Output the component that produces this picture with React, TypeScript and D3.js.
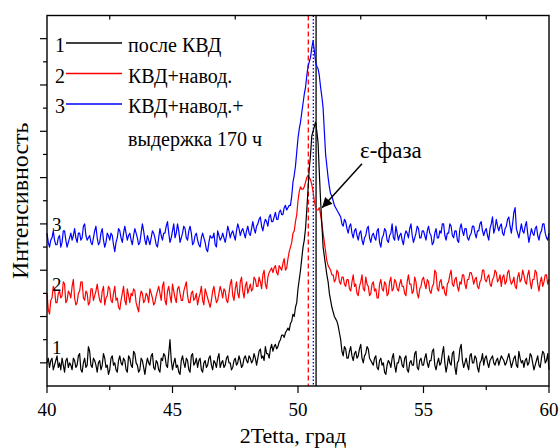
import { line, scaleLinear } from 'd3';
import React from 'react';

// 2Tetta grid: 40..60 step 0.05 (one row = one degree)
const tettaStart = 40;
const tettaStep = 0.05;

// 1 - после КВД
const seriesAfterHPT = [
	10, 12, 8, 11, 12, 7, 9, 11, 13, 8, 10, 7, 12, 9, 6, 11, 12, 8, 10, 9,
	7, 12, 11, 8, 9, 13, 14, 7, 6, 10, 12, 8, 9, 17, 15, 9, 8, 12, 11, 9,
	6, 10, 11, 7, 9, 14, 12, 8, 9, 5, 7, 12, 13, 9, 10, 7, 6, 11, 13, 10,
	9, 12, 11, 7, 6, 13, 12, 9, 8, 15, 14, 10, 9, 6, 7, 12, 11, 8, 5, 9,
	12, 10, 9, 13, 14, 8, 7, 11, 10, 7, 6, 12, 11, 14, 13, 9, 8, 14, 20, 11,
	7, 10, 12, 8, 9, 6, 5, 11, 13, 10, 8, 12, 11, 7, 6, 13, 14, 9, 10, 12,
	8, 11, 12, 7, 6, 10, 11, 8, 9, 12, 13, 9, 7, 11, 10, 8, 12, 14, 8, 10,
	11, 8, 9, 12, 13, 10, 10, 7, 8, 11, 12, 9, 10, 13, 11, 8, 9, 12, 13, 11,
	10, 13, 12, 10, 11, 14, 12, 9, 12, 15, 16, 12, 13, 11, 17, 14, 14, 12, 16, 18,
	15, 17, 18, 16, 17, 19, 20, 22, 22, 21, 23, 24, 25, 24, 27, 28, 31, 30, 34, 36,
	42, 46, 50, 55, 60, 63, 68, 76, 85, 94, 100, 108, 110, 112, 114, 110, 105, 92, 80, 70,
	60, 56, 52, 48, 45, 40, 37, 34, 32, 30, 29, 28, 26, 23, 20, 15, 13, 17, 16, 12,
	12, 15, 17, 13, 11, 14, 15, 12, 13, 16, 18, 12, 10, 13, 14, 17, 16, 12, 11, 10,
	9, 12, 13, 8, 7, 11, 12, 9, 10, 6, 5, 9, 11, 10, 8, 12, 14, 9, 6, 10,
	10, 13, 12, 9, 8, 12, 13, 7, 6, 10, 11, 9, 9, 14, 15, 8, 7, 11, 12, 9,
	9, 12, 14, 10, 8, 11, 11, 15, 16, 9, 7, 10, 12, 9, 10, 14, 17, 10, 6, 9,
	13, 10, 9, 14, 15, 8, 5, 10, 11, 16, 18, 11, 8, 10, 12, 9, 7, 13, 14, 10,
	10, 13, 12, 8, 6, 10, 11, 14, 9, 12, 13, 10, 8, 11, 12, 13, 10, 9, 11, 12,
	9, 11, 13, 12, 11, 9, 10, 12, 14, 11, 8, 10, 12, 13, 9, 8, 15, 12, 10, 11,
	8, 11, 12, 9, 10, 14, 13, 10, 7, 9, 11, 13, 9, 8, 12, 15, 14, 10, 11, 14,
	7
];

// 2 - КВД+навод.
const seriesHydrogen = [
	40, 33, 31, 37, 38, 43, 42, 36, 36, 40, 41, 38, 39, 45, 44, 36, 37, 41, 40, 38,
	43, 46, 38, 35, 36, 40, 41, 45, 45, 38, 37, 41, 40, 35, 36, 42, 42, 37, 39, 41,
	44, 40, 37, 36, 41, 43, 35, 38, 39, 43, 42, 37, 36, 40, 43, 37, 38, 34, 33, 37,
	40, 43, 37, 35, 42, 39, 36, 40, 39, 42, 41, 36, 34, 32, 38, 41, 40, 36, 37, 40,
	39, 36, 42, 40, 38, 35, 36, 39, 41, 43, 40, 37, 43, 45, 37, 35, 41, 43, 39, 36,
	44, 41, 38, 36, 42, 43, 40, 37, 37, 41, 43, 45, 39, 36, 36, 40, 41, 37, 38, 40,
	35, 38, 40, 43, 37, 35, 42, 40, 38, 36, 34, 37, 41, 43, 39, 36, 37, 40, 43, 41,
	38, 42, 41, 37, 36, 40, 44, 46, 39, 37, 42, 45, 40, 38, 45, 47, 41, 38, 43, 45,
	40, 42, 44, 41, 42, 47, 46, 43, 43, 47, 45, 42, 48, 50, 44, 42, 47, 49, 50, 51,
	49, 51, 52, 49, 48, 52, 51, 50, 53, 55, 50, 51, 55, 58, 60, 62, 66, 67, 71, 74,
	80, 84, 86, 85, 85, 86, 88, 90, 91, 90, 89, 87, 84, 80, 77, 76, 76, 77, 74, 70,
	66, 62, 58, 54, 52, 51, 50, 48, 48, 45, 46, 50, 49, 45, 44, 47, 47, 44, 43, 46,
	46, 42, 41, 45, 48, 43, 44, 40, 39, 43, 45, 48, 42, 41, 47, 44, 43, 39, 40, 44,
	45, 41, 42, 38, 38, 44, 46, 42, 41, 45, 44, 39, 40, 45, 47, 41, 42, 46, 45, 42,
	41, 44, 46, 43, 43, 40, 39, 45, 48, 44, 44, 40, 41, 47, 45, 40, 38, 42, 43, 46,
	47, 44, 42, 46, 45, 41, 40, 43, 44, 50, 49, 42, 41, 45, 46, 42, 43, 40, 39, 44,
	45, 48, 50, 44, 43, 46, 47, 43, 41, 45, 44, 48, 48, 44, 42, 46, 46, 49, 49, 47,
	44, 46, 47, 43, 42, 45, 46, 50, 50, 46, 45, 47, 48, 44, 43, 46, 47, 50, 49, 45,
	46, 48, 43, 47, 48, 44, 45, 49, 50, 46, 44, 45, 47, 43, 42, 47, 49, 45, 46, 50,
	48, 45, 44, 48, 50, 45, 42, 46, 46, 50, 49, 44, 41, 45, 47, 43, 45, 48, 48, 44,
	46
];

// 3 - КВД+навод.+выдержка 170 ч
const seriesHydrogenAged = [
	66, 62, 60, 63, 64, 67, 63, 61, 61, 64, 65, 60, 62, 67, 67, 63, 60, 62, 64, 66,
	63, 65, 68, 64, 62, 66, 66, 63, 64, 69, 70, 65, 63, 64, 65, 62, 61, 64, 67, 69,
	64, 61, 62, 66, 68, 63, 60, 62, 66, 65, 63, 66, 65, 61, 58, 62, 64, 68, 67, 64,
	62, 66, 69, 66, 63, 65, 66, 63, 61, 65, 68, 66, 64, 61, 62, 66, 70, 67, 63, 61,
	65, 63, 61, 64, 67, 66, 64, 61, 60, 64, 68, 65, 63, 66, 66, 69, 71, 66, 62, 64,
	67, 70, 64, 66, 70, 67, 62, 64, 66, 69, 68, 64, 63, 67, 69, 66, 61, 62, 65, 66,
	63, 61, 60, 64, 66, 64, 62, 59, 58, 62, 65, 64, 64, 66, 61, 60, 67, 65, 63, 64,
	66, 64, 62, 65, 69, 67, 64, 66, 67, 65, 63, 67, 70, 68, 65, 67, 68, 66, 64, 67,
	69, 66, 65, 68, 71, 68, 66, 69, 70, 72, 73, 69, 67, 70, 72, 71, 69, 73, 74, 71,
	71, 73, 75, 72, 72, 75, 76, 74, 74, 77, 78, 76, 77, 78, 78, 82, 88, 91, 95, 101,
	107, 111, 114, 118, 122, 126, 129, 134, 138, 140, 142, 146, 149, 145, 140, 138, 137, 134, 129, 125,
	120, 110, 100, 95, 90, 86, 83, 82, 80, 78, 77, 76, 75, 74, 73, 70, 69, 72, 71, 68,
	66, 69, 70, 66, 64, 67, 68, 65, 63, 66, 67, 63, 61, 64, 65, 68, 69, 64, 62, 65,
	66, 64, 63, 67, 68, 62, 60, 64, 65, 68, 67, 63, 62, 65, 66, 70, 64, 63, 69, 66,
	63, 65, 66, 63, 61, 65, 67, 66, 64, 68, 70, 65, 62, 64, 66, 69, 68, 64, 64, 67,
	67, 65, 63, 67, 69, 66, 65, 61, 62, 66, 68, 64, 64, 67, 66, 70, 70, 65, 63, 66,
	66, 70, 69, 65, 64, 67, 67, 63, 62, 68, 70, 67, 65, 68, 68, 64, 63, 65, 66, 69,
	69, 66, 64, 67, 67, 70, 71, 67, 65, 67, 68, 65, 63, 68, 70, 73, 66, 68, 72, 69,
	67, 69, 70, 66, 65, 68, 69, 72, 73, 69, 66, 70, 75, 77, 68, 66, 64, 67, 70, 67,
	66, 69, 71, 66, 62, 65, 68, 66, 65, 68, 69, 65, 63, 66, 67, 70, 70, 66, 64, 63,
	66
];

const seriesColors = ['#000000', '#ff0000', '#0000ff'];
const seriesNames = ['после КВД', 'КВД+навод.', 'КВД+навод.+'];
const seriesLabelLevels = [14, 41, 67]; // where the curve numbers sit (intensity)

const xMajorTicks = [40, 45, 50, 55, 60];
const xMinorTicks = [42.5, 47.5, 52.5, 57.5];
const yMajorTicks = [10, 30, 50, 70, 90, 110, 130, 150];
const yMinorTicks = [20, 40, 60, 80, 100, 120, 140];

// peak positions: red dashed, blue dotted, black solid
const peakLines = [50.41, 50.61, 50.72];
const peakColors = ['#ff0000', '#0000ff', '#000000'];
const peakDash = ['5,3', '1.5,2', undefined];

// annotation arrow (2Tetta, intensity)
const epsText = 'ε-фаза';
const epsTextAt = [52.47, 98.5];
const epsArrowFrom = [52.55, 96];
const epsArrowTo = [50.96, 77];

const serif = (size: number) => ({ fontFamily: "'Liberation Serif'", fontSize: `${size}px` });

export default function App() {
	const width = 559;
	const height = 448;
	const margin = { left: 47, top: 15.5, right: 10, bottom: 62 };
	const bottom = height - margin.bottom;

	const x = scaleLinear()
		.domain([40, 60])
		.range([margin.left, width - margin.right]);

	const y = scaleLinear()
		.domain([0, 160])
		.range([bottom, margin.top]);

	const curve = line<number>()
		.x((d, i) => x(tettaStart + i * tettaStep))
		.y(d => y(d));

	const all = [seriesAfterHPT, seriesHydrogen, seriesHydrogenAged];

	return (
		<svg
			width={width}
			height={height}
			style={{ position: 'absolute', left: 0, top: 0, background: '#fff' }}
		>
			<defs>
				<marker id="arrowhead" viewBox="0 0 10 10" refX={10} refY={5}
					markerWidth={13} markerHeight={10} markerUnits="userSpaceOnUse" orient="auto">
					<path d="M0,0 L10,5 L0,10 Z" fill="#000" />
				</marker>
			</defs>

			{/* peak position lines */}
			{peakLines.map((p, i) => (
				<line key={p} x1={x(p)} x2={x(p)} y1={margin.top} y2={bottom}
					stroke={peakColors[i]} strokeWidth={1.3} strokeDasharray={peakDash[i]} />
			))}

			{/* curves: blue, red, black on top */}
			{[2, 1, 0].map(i => (
				<path key={i} d={curve(all[i]) || ''} fill="none" stroke={seriesColors[i]}
					strokeWidth={1.2} strokeLinejoin="round" />
			))}

			{/* bottom axis */}
			{xMajorTicks.map(t => (
				<g key={t} transform={`translate(${x(t)},${bottom})`}>
					<line y2={7} stroke="#000" strokeWidth={1.2} />
					<text y={30} textAnchor="middle" style={serif(19)}>{t}</text>
				</g>
			))}
			{xMinorTicks.map(t => (
				<line key={t} x1={x(t)} x2={x(t)} y1={bottom} y2={bottom + 4} stroke="#000" strokeWidth={1.2} />
			))}
			{/* top axis: minor ticks inside */}
			{xMinorTicks.map(t => (
				<line key={t} x1={x(t)} x2={x(t)} y1={margin.top} y2={margin.top + 4} stroke="#000" strokeWidth={1.2} />
			))}
			{/* left axis */}
			{yMajorTicks.map(t => (
				<line key={t} x1={margin.left - 7} x2={margin.left} y1={y(t)} y2={y(t)} stroke="#000" strokeWidth={1.2} />
			))}
			{yMinorTicks.map(t => (
				<line key={t} x1={margin.left - 4} x2={margin.left} y1={y(t)} y2={y(t)} stroke="#000" strokeWidth={1.2} />
			))}

			{/* frame */}
			<rect x={margin.left} y={margin.top} width={width - margin.right - margin.left}
				height={bottom - margin.top} fill="none" stroke="#000" strokeWidth={1.4} />

			{/* legend */}
			{seriesNames.map((name, i) => {
				const base = 52 + i * 30.5;
				return (
					<g key={name}>
						<text x={55} y={base} style={serif(20)}>{i + 1}</text>
						<line x1={66} x2={122} y1={base - 9} y2={base - 9} stroke={seriesColors[i]} strokeWidth={1.6} />
						<text x={128} y={base} style={serif(20)}>{name}</text>
					</g>
				);
			})}
			<text x={128} y={146} style={serif(20)}>выдержка 170 ч</text>

			{/* curve numbers */}
			{seriesLabelLevels.map((v, i) => (
				<text key={i} x={52} y={y(v)} style={serif(19)}>{i + 1}</text>
			))}

			{/* ε-phase annotation */}
			<line x1={x(epsArrowFrom[0])} y1={y(epsArrowFrom[1])} x2={x(epsArrowTo[0])} y2={y(epsArrowTo[1])}
				stroke="#000" strokeWidth={1.5} markerEnd="url(#arrowhead)" />
			<text x={x(epsTextAt[0])} y={y(epsTextAt[1])} style={serif(23)}>{epsText}</text>

			{/* axis titles */}
			<text x={293} y={443} textAnchor="middle" style={serif(22)}>2Tetta, град</text>
			<text transform={`translate(28,${(margin.top + bottom) / 2}) rotate(-90)`} textAnchor="middle"
				style={serif(24)}>Интенсивность</text>
		</svg>
	);
}
